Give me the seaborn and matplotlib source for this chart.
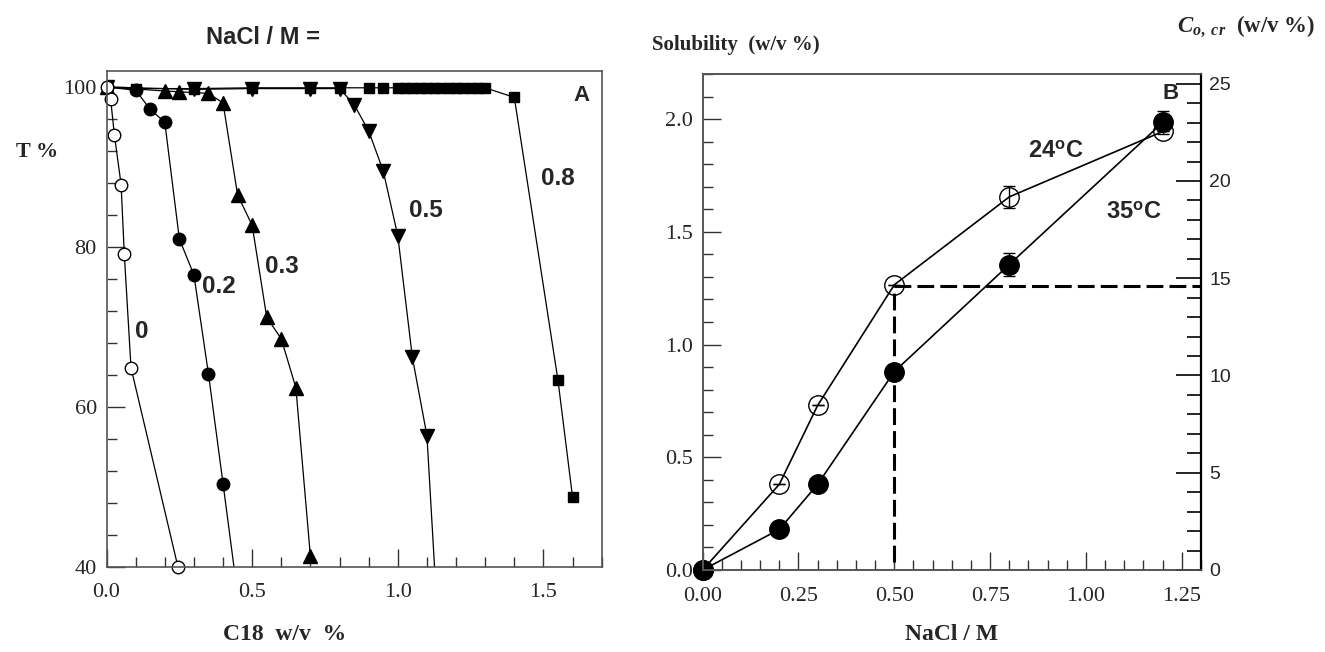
import matplotlib
matplotlib.use("Agg")
import matplotlib.pyplot as plt
from matplotlib.ticker import MultipleLocator, FormatStrFormatter
import seaborn as sns

# ---- Panel A: transmittance vs C18 concentration, one curve per NaCl level ----
c18_n0 = [0.0, 0.014, 0.027, 0.05, 0.061, 0.084, 0.245]
t_n0 = [100.0, 98.5, 94.0, 87.8, 79.1, 64.9, 40.0]

c18_n02 = [0.0, 0.1, 0.15, 0.2, 0.25, 0.3, 0.35, 0.4, 0.45]
t_n02 = [100.0, 99.6, 97.2, 95.6, 81.0, 76.5, 64.1, 50.4, 36.5]

c18_n03 = [0.0, 0.2, 0.25, 0.35, 0.4, 0.45, 0.5, 0.55, 0.6, 0.65, 0.7]
t_n03 = [100.0, 99.5, 99.4, 99.2, 98.0, 86.5, 82.7, 71.2, 68.5, 62.4, 41.3]

c18_n05 = [0.0, 0.3, 0.5, 0.7, 0.8, 0.85, 0.9, 0.95, 1.0, 1.05, 1.1, 1.15]
t_n05 = [100.0, 99.7, 99.8, 99.8, 99.8, 97.8, 94.5, 89.5, 81.4, 66.2, 56.4, 25.0]

c18_n08 = [0.0, 0.1, 0.3, 0.5, 0.7, 0.8, 0.9, 0.95, 1.0, 1.025, 1.05, 1.075,
           1.1, 1.125, 1.15, 1.175, 1.2, 1.225, 1.25, 1.275, 1.3, 1.4, 1.55, 1.6]
t_n08 = [100.0, 99.8, 99.8, 99.9, 99.9, 99.9, 99.9, 99.9, 99.9, 99.9, 99.9, 99.9,
         99.9, 99.9, 99.9, 99.9, 99.9, 99.9, 99.9, 99.9, 99.9, 98.7, 63.3, 48.7]

curve_labels = ["0", "0.2", "0.3", "0.5", "0.8"]

# ---- Panel B: solubility vs NaCl at two temperatures ----
nacl_b = [0.0, 0.2, 0.3, 0.5, 0.8, 1.2]
sol_24 = [0.0, 0.38, 0.73, 1.265, 1.655, 1.945]
sol_35 = [0.0, 0.18, 0.38, 0.88, 1.355, 1.985]
err_24 = [0.0, 0.0, 0.0, 0.0, 0.05, 0.0]
err_35 = [0.0, 0.0, 0.0, 0.0, 0.05, 0.05]
temp_labels = ["24", "35"]

# critical oil concentration read on the right axis
nacl_crit = 0.5
co_crit = 14.6

sns.set_theme(style="white")
plt.rcParams["font.family"] = ["Liberation Serif", "DejaVu Serif"]
plt.rcParams["mathtext.fontset"] = "custom"
plt.rcParams["mathtext.bf"] = "Liberation Sans:bold"
plt.rcParams["mathtext.it"] = "Liberation Serif:italic:bold"
plt.rcParams["mathtext.rm"] = "Liberation Serif:bold"

SANS = "Liberation Sans"
SERIF = "Liberation Serif"
FRAME = "#555555"

fig = plt.figure(figsize=(13.25, 6.52), dpi=100)
axA = fig.add_axes([0.0804, 0.1308, 0.3737, 0.7603])
axB = fig.add_axes([0.5303, 0.1258, 0.3761, 0.7607])

line_kw = dict(color="black", linewidth=0.9, estimator=None, sort=False,
               markeredgecolor="black", markeredgewidth=1.0)

# squares first so the other markers sit on top of the 100 % plateau
sns.lineplot(x=c18_n08, y=t_n08, ax=axA, marker="s", markersize=7.5,
             markerfacecolor="black", **line_kw)
sns.lineplot(x=c18_n05, y=t_n05, ax=axA, marker="v", markersize=10,
             markerfacecolor="black", **line_kw)
sns.lineplot(x=c18_n03, y=t_n03, ax=axA, marker="^", markersize=10,
             markerfacecolor="black", clip_on=False, **line_kw)
sns.lineplot(x=c18_n02, y=t_n02, ax=axA, marker="o", markersize=9,
             markerfacecolor="black", **line_kw)
sns.lineplot(x=c18_n0, y=t_n0, ax=axA, marker="o", markersize=9,
             markerfacecolor="white", clip_on=False, **line_kw)

axA.set_xlim(0, 1.7)
axA.set_ylim(40, 102)
axA.xaxis.set_major_locator(MultipleLocator(0.5))
axA.xaxis.set_minor_locator(MultipleLocator(0.1))
axA.yaxis.set_major_locator(MultipleLocator(20))
axA.yaxis.set_minor_locator(MultipleLocator(4))
axA.xaxis.set_major_formatter(FormatStrFormatter("%.1f"))
axA.yaxis.set_major_formatter(FormatStrFormatter("%d"))
axA.set_xlabel("")
axA.set_ylabel("")

label_pos = [(0.121, 69.4), (0.387, 75.1), (0.603, 77.5), (1.097, 84.6), (1.55, 88.5)]
for lab, (lx, ly) in zip(curve_labels, label_pos):
    axA.text(lx, ly, lab, fontsize=17.5, fontweight="bold", family=SANS,
             ha="center", va="center")
axA.text(0.96, 0.95, "A", transform=axA.transAxes, fontsize=16,
         fontweight="bold", family=SANS, ha="center", va="center")

# ---- Panel B ----
sns.lineplot(x=nacl_b, y=sol_35, ax=axB, marker="o", markersize=14,
             markerfacecolor="black", clip_on=False,
             **{**line_kw, "linewidth": 1.2})
sns.lineplot(x=nacl_b, y=sol_24, ax=axB, marker="o", markersize=14,
             markerfacecolor="none", clip_on=False,
             **{**line_kw, "linewidth": 1.2})
axB.errorbar(nacl_b, sol_24, yerr=err_24, fmt="none", ecolor="black",
             elinewidth=1, capsize=4, capthick=1)
axB.errorbar(nacl_b, sol_35, yerr=err_35, fmt="none", ecolor="black",
             elinewidth=1, capsize=4, capthick=1)

axB.set_xlim(0, 1.3)
axB.set_ylim(0, 2.2)
axB.xaxis.set_major_locator(MultipleLocator(0.25))
axB.xaxis.set_minor_locator(MultipleLocator(0.05))
axB.yaxis.set_major_locator(MultipleLocator(0.5))
axB.yaxis.set_minor_locator(MultipleLocator(0.1))
axB.xaxis.set_major_formatter(FormatStrFormatter("%.2f"))
axB.yaxis.set_major_formatter(FormatStrFormatter("%.1f"))
axB.set_xlabel("")
axB.set_ylabel("")

axR = axB.twinx()
axR.set_ylim(0, 25.5)
axR.yaxis.set_major_locator(MultipleLocator(5))
axR.yaxis.set_minor_locator(MultipleLocator(1))
axR.yaxis.set_major_formatter(FormatStrFormatter("%d"))
axR.plot([nacl_crit, 1.3], [co_crit, co_crit], color="black", linewidth=2.2,
         dashes=(5.5, 2.0), clip_on=False)
axR.plot([nacl_crit, nacl_crit], [0.4, co_crit], color="black", linewidth=2.2,
         dashes=(5.5, 2.0))
axR.grid(False)

for t, (tx, ty) in zip(temp_labels, [(0.709, 0.845), (0.866, 0.722)]):
    axB.text(tx, ty, t + r"$^{\mathbf{o}}$C", transform=axB.transAxes,
             fontsize=17, fontweight="bold", family=SANS, ha="center", va="center")
axB.text(0.938, 0.96, "B", transform=axB.transAxes, fontsize=16,
         fontweight="bold", family=SANS, ha="center", va="center")

# ---- axes styling ----
for ax in (axA, axB, axR):
    ax.grid(False)
    for sp in ax.spines.values():
        sp.set_color(FRAME)
        sp.set_linewidth(1.2)
axR.spines["right"].set_color("black")
axR.spines["right"].set_linewidth(1.6)

for ax in (axA, axB):
    ax.tick_params(which="major", direction="in", length=13, width=1,
                   color="#333333", labelsize=16, pad=7,
                   left=True, bottom=True, top=False, right=False)
    ax.tick_params(which="minor", direction="in", length=7, width=1,
                   color="#333333", left=True, bottom=True, top=False, right=False)
    ax.tick_params(axis="x", which="major", pad=12)
    for lab in ax.get_xticklabels() + ax.get_yticklabels():
        lab.set_family(SERIF)

axR.tick_params(which="major", direction="in", length=18, width=1.2,
                color="black", labelsize=14, pad=6, right=True, left=False)
axR.tick_params(which="minor", direction="in", length=10, width=1.2,
                color="black", right=True, left=False)
for lab in axR.get_yticklabels():
    lab.set_family(SANS)

# ---- figure-level titles and axis names ----
fig.text(263 / 1325, 1 - 37 / 652, "NaCl / M =", fontsize=17, fontweight="bold",
         family=SANS, ha="center", va="center")
fig.text(37 / 1325, 1 - 152 / 652, "T %", fontsize=16, fontweight="bold",
         family=SERIF, ha="center", va="center")
fig.text(285 / 1325, 1 - 635 / 652, "C18  w/v  %", fontsize=17, fontweight="bold",
         family=SERIF, ha="center", va="center")
fig.text(736 / 1325, 1 - 45 / 652, "Solubility  (w/v %)", fontsize=15,
         fontweight="bold", family=SERIF, ha="center", va="center")
fig.text(1246 / 1325, 1 - 26 / 652, r"$C_{o,\ cr}$  (w/v %)", fontsize=16.5,
         fontweight="bold", family=SERIF, ha="center", va="center")
fig.text(952 / 1325, 1 - 635 / 652, "NaCl / M", fontsize=17, fontweight="bold",
         family=SERIF, ha="center", va="center")

fig.savefig("out.png", dpi=100)
